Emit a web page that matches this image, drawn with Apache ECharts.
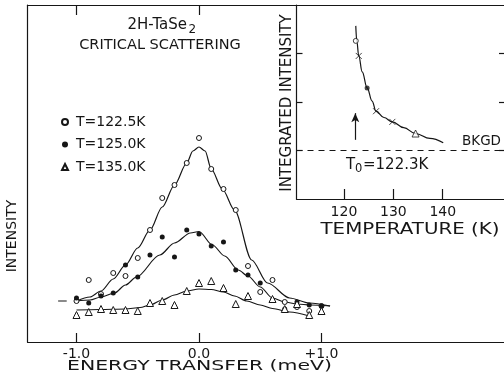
<!DOCTYPE html>
<html><head><meta charset="utf-8">
<script src="https://cdn.jsdelivr.net/npm/echarts@6/dist/echarts.min.js"></script>
<style>html,body{margin:0;padding:0;background:#fff}#c{width:504px;height:377px}</style>
</head><body><div id="c"></div>
<script>
// ---- main panel data (energy transfer in meV, intensity arb. units) ----
const energy = [-1.0,-0.9,-0.8,-0.7,-0.6,-0.5,-0.4,-0.3,-0.2,-0.1,0.0,0.1,0.2,0.3,0.4,0.5,0.6,0.7,0.8,0.9,1.0];
const int122 = [4.1,6.2,4.8,6.9,6.6,8.4,11.2,14.4,15.7,17.9,20.4,17.3,15.3,13.2,7.6,5.0,6.2,4.0,3.5,3.1,3.6];
const int125 = [4.4,3.9,4.6,4.9,7.7,6.5,8.7,10.5,8.5,11.2,10.8,9.6,10.0,7.2,6.7,5.9,4.2,3.3,4.0,3.7,3.6];
const int135 = [2.7,3.0,3.3,3.2,3.2,3.1,3.9,4.1,3.7,5.1,5.9,6.1,5.4,3.8,4.6,null,4.3,3.3,3.8,2.7,3.1];

const fit122E = [-1.0,-0.89,-0.8,-0.7,-0.6,-0.5,-0.4,-0.3,-0.2,-0.1,-0.05,0.0,0.05,0.1,0.19,0.29,0.43,0.56,0.74,0.9,1.07];
const fit122I = [4.1,4.5,5.1,6.3,7.7,9.4,11.2,13.5,15.7,17.9,19.1,19.5,19.1,17.3,15.3,13.2,8.2,5.9,4.4,3.9,3.6];
const fit125E = [-1.0,-0.89,-0.8,-0.69,-0.6,-0.51,-0.32,-0.2,-0.07,0.0,0.11,0.21,0.32,0.4,0.5,0.6,0.7,0.8,0.91,1.07];
const fit125I = [4.1,4.2,4.5,4.9,5.7,6.5,8.7,9.9,10.9,11.05,9.7,8.6,7.2,6.6,5.5,4.4,4.0,3.8,3.7,3.6];
const fit135E = [-1.0,-0.81,-0.6,-0.48,-0.4,-0.3,-0.2,-0.1,0.0,0.1,0.2,0.29,0.39,0.5,0.6,0.74,0.9];
const fit135I = [3.2,3.25,3.3,3.45,3.7,4.2,4.7,5.1,5.3,5.25,5.0,4.6,4.1,3.7,3.35,3.0,2.6];
const baseMarkE = [-1.15,-1.08];
const baseMarkI = [4.1,4.1];

const seriesNames = ['T=122.5K','T=125.0K','T=135.0K'];
const mainTicks = [-1,0,1];
const mainTickLabels = ['-1.0','0.0','+1.0'];
const mainTopTicks = [-1,0];

// ---- inset data (temperature K, integrated intensity) ----
const insetOpenT = [122.4], insetOpenI = [3.26];
const insetDotT = [124.7], insetDotI = [2.29];
const insetTriT = [134.5], insetTriI = [1.35];
const insetCrossT = [123.0,126.5,129.8], insetCrossI = [2.95,1.81,1.59];
const insetFitT = [122.4,122.6,123.0,123.7,124.7,125.7,126.5,128.1,129.8,132.1,134.5,137.4,140.1];
const insetFitI = [3.57,3.26,2.95,2.62,2.29,2.02,1.81,1.68,1.59,1.47,1.35,1.25,1.16];
const insetTicks = [120,130,140];
const insetYTicks = [1,2,3];
const bkgdLevel = 1.0;
const T0 = 122.3;
const arrowFrom = 1.22, arrowTo = 1.77;

const zip = (a,b) => a.map((v,i) => [v, b[i]]);
const ink = '#161616';
const FF = 'DejaVu Sans';

const chart = echarts.init(document.getElementById('c'), null, {renderer:'canvas'});
const txt = (text, x, y, size, extra) => Object.assign({
  type:'text', x:x, y:y,
  style:{text:text, font: size+'px "'+FF+'"', fill:ink, textAlign:'center', textVerticalAlign:'middle', align:'center', verticalAlign:'middle'}
}, extra||{});
const ltxt = (text, x, y, size) => ({type:'text', x:x, y:y,
  style:{text:text, font:size+'px "'+FF+'"', fill:ink, textAlign:'left', align:'left', textVerticalAlign:'middle', verticalAlign:'middle'}});

const option = {
  animation:false,
  backgroundColor:'#fff',
  textStyle:{fontFamily:FF, color:ink},
  grid:[
    {left:27.5, top:5, right:0, bottom:35},
    {left:296.5, top:5, right:0, bottom:178}
  ],
  legend:{
    data:seriesNames, orient:'vertical', left:56, top:109,
    itemWidth:6, itemHeight:6, itemGap:6.5,
    textStyle:{fontSize:14, color:ink, fontFamily:FF, lineHeight:16, padding:[0,0,0,3]}
  },
  xAxis:[
    {gridIndex:0, type:'value', min:-1.4, max:2.49, position:'bottom',
     axisLine:{onZero:false, lineStyle:{color:ink,width:1.2}},
     axisTick:{inside:true, length:9, customValues:mainTicks, lineStyle:{color:ink,width:1.2}},
     axisLabel:{customValues:mainTicks, margin:5, fontSize:14, color:ink,
       formatter:v => mainTickLabels[mainTicks.indexOf(v)]},
     splitLine:{show:false}},
    {gridIndex:0, type:'value', min:-1.4, max:2.49, position:'top',
     axisLine:{onZero:false, lineStyle:{color:ink,width:1.2}},
     axisTick:{inside:true, length:10, customValues:mainTopTicks, lineStyle:{color:ink,width:1.2}},
     axisLabel:{show:false}, splitLine:{show:false}},
    {gridIndex:1, type:'value', min:110.4, max:152.4, position:'bottom',
     axisLine:{onZero:false, lineStyle:{color:ink,width:1.2}},
     axisTick:{inside:true, length:10, customValues:insetTicks, lineStyle:{color:ink,width:1.2}},
     axisLabel:{customValues:insetTicks, margin:6, fontSize:14, color:ink},
     splitLine:{show:false}}
  ],
  yAxis:[
    {gridIndex:0, type:'value', min:0, max:33.7, position:'left',
     axisLine:{show:true, onZero:false, lineStyle:{color:ink,width:1.2}},
     axisTick:{show:false}, axisLabel:{show:false}, splitLine:{show:false}},
    {gridIndex:1, type:'value', min:0, max:4, position:'left',
     axisLine:{show:true, onZero:false, lineStyle:{color:ink,width:1.2}},
     axisTick:{inside:true, length:6, customValues:insetYTicks, lineStyle:{color:ink,width:1.2}},
     axisLabel:{show:false}, splitLine:{show:false}},
    {gridIndex:1, type:'value', min:0, max:4, position:'right',
     axisLine:{show:false, onZero:false},
     axisTick:{show:true, inside:true, length:5, customValues:insetYTicks, lineStyle:{color:ink,width:1.2}},
     axisLabel:{show:false}, splitLine:{show:false}}
  ],
  series:[
    {name:seriesNames[0], type:'scatter', xAxisIndex:0, yAxisIndex:0, data:zip(energy,int122),
     symbol:'circle', symbolSize:5, itemStyle:{color:'#fff', borderColor:ink, borderWidth:1, opacity:1}, z:4},
    {name:seriesNames[1], type:'scatter', xAxisIndex:0, yAxisIndex:0, data:zip(energy,int125),
     symbol:'circle', symbolSize:5, itemStyle:{color:ink, borderColor:ink, borderWidth:0, opacity:1}, z:4},
    {name:seriesNames[2], type:'scatter', xAxisIndex:0, yAxisIndex:0, data:zip(energy,int135).filter(p=>p[1]!==null),
     symbol:'triangle', symbolSize:7, itemStyle:{color:'#fff', borderColor:ink, borderWidth:1, opacity:1}, z:4},
    {type:'line', xAxisIndex:0, yAxisIndex:0, data:zip(fit122E,fit122I), showSymbol:false, smooth:0.3, smoothMonotone:'x',
     lineStyle:{color:ink,width:1.2}, z:2},
    {type:'line', xAxisIndex:0, yAxisIndex:0, data:zip(fit125E,fit125I), showSymbol:false, smooth:0.3, smoothMonotone:'x',
     lineStyle:{color:ink,width:1.2}, z:2},
    {type:'line', xAxisIndex:0, yAxisIndex:0, data:zip(fit135E,fit135I), showSymbol:false, smooth:0.3, smoothMonotone:'x',
     lineStyle:{color:ink,width:1.2}, z:2},
    {type:'line', xAxisIndex:0, yAxisIndex:0, data:zip(baseMarkE,baseMarkI), showSymbol:false,
     lineStyle:{color:ink,width:1.2}},
    // inset
    {type:'line', xAxisIndex:2, yAxisIndex:1, data:zip(insetFitT,insetFitI), showSymbol:false, smooth:0.4, smoothMonotone:'x',
     lineStyle:{color:ink,width:1.2}, z:2,
     markLine:{silent:true, animation:false, label:{show:false}, symbol:['none','none'],
       data:[{yAxis:bkgdLevel}],
       lineStyle:{color:ink, width:1, type:[6,5]}}},
    {type:'line', xAxisIndex:2, yAxisIndex:1, data:[], showSymbol:false,
     markLine:{silent:true, animation:false, label:{show:false}, symbol:['none','arrow'], symbolSize:[6,9],
       data:[[{coord:[T0, arrowFrom]}, {coord:[T0, arrowTo]}]],
       lineStyle:{color:ink, width:1.2, type:'solid'}}},
    {type:'scatter', xAxisIndex:2, yAxisIndex:1, data:zip(insetOpenT,insetOpenI), symbol:'circle', symbolSize:5,
     itemStyle:{color:'#fff', borderColor:ink, borderWidth:1}, z:4},
    {type:'scatter', xAxisIndex:2, yAxisIndex:1, data:zip(insetDotT,insetDotI), symbol:'circle', symbolSize:5,
     itemStyle:{color:ink}, z:4},
    {type:'scatter', xAxisIndex:2, yAxisIndex:1, data:zip(insetTriT,insetTriI), symbol:'triangle', symbolSize:7,
     itemStyle:{color:'#fff', borderColor:ink, borderWidth:1}, z:4},
    {type:'scatter', xAxisIndex:2, yAxisIndex:1, data:zip(insetCrossT,insetCrossI), symbol:'path://M0,0L10,10M10,0L0,10', symbolSize:6,
     itemStyle:{color:'transparent', borderColor:ink, borderWidth:1}, z:4}
  ],
  graphic:[
    {type:'text', x:187, y:25.5, style:{text:'2H-TaSe', font:'15px "'+FF+'"', fill:ink, textAlign:'right', align:'right', textVerticalAlign:'middle', verticalAlign:'middle'}},
    ltxt('2', 188.5, 29.5, 12),
    txt('CRITICAL SCATTERING', 160, 45.5, 14.5),
    txt('INTENSITY', 12, 236, 14, {rotation:Math.PI/2}),
    txt('ENERGY TRANSFER (meV)', 199.5, 366.5, 14, {scaleX:1.46}),
    txt('TEMPERATURE (K)', 410, 230, 15.5, {scaleX:1.28}),
    txt('INTEGRATED INTENSITY', 287, 103, 15, {rotation:Math.PI/2}),
    txt('BKGD', 481.5, 141, 13.5),
    ltxt('T', 346, 165, 15),
    ltxt('0', 355, 169.5, 11.5),
    ltxt('=122.3K', 363, 165, 15)
  ]
};
chart.setOption(option);
</script>
</body></html>
